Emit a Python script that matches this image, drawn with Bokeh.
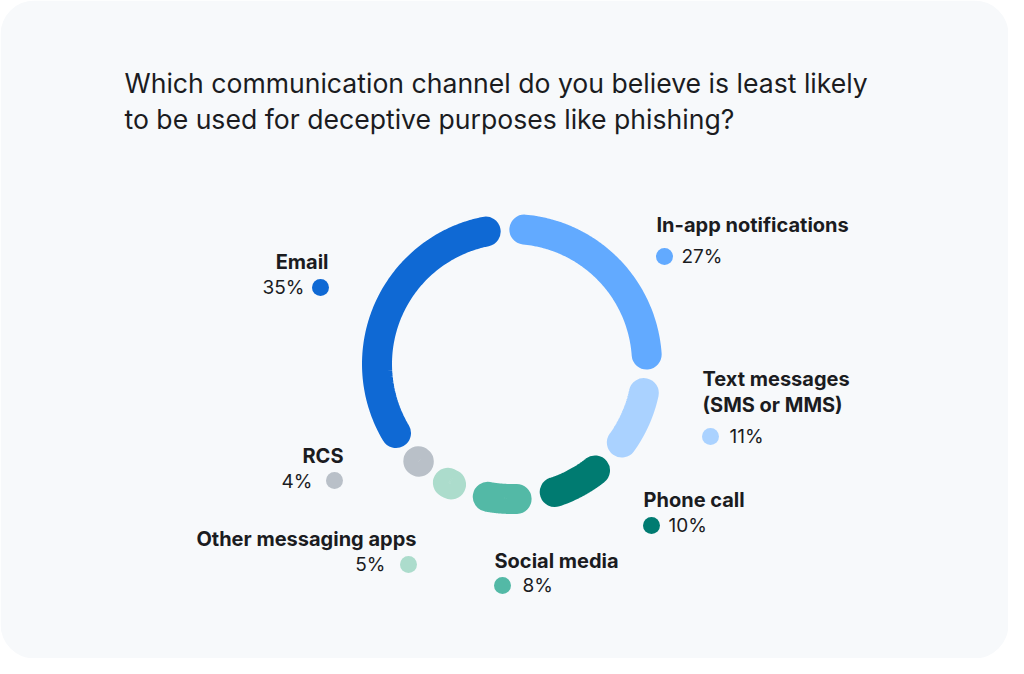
import numpy as np
from bokeh.plotting import figure
from bokeh.models import Range1d, BoxAnnotation, ColumnDataSource
from bokeh.core.properties import value
from bokeh.embed import file_html
from bokeh.resources import INLINE

# ---- data ----
channels = ["In-app notifications", "Text messages\n(SMS or MMS)", "Phone call",
            "Social media", "Other messaging apps", "RCS", "Email"]
shares = [27, 11, 10, 8, 5, 4, 35]
pct_labels = ["27%", "11%", "10%", "8%", "5%", "4%", "35%"]
colors = ["#62aaff", "#aad2ff", "#007b71", "#53b9a6", "#acdccc", "#b9c0c8", "#0f69d4"]
title_lines = ["Which communication channel do you believe is least likely",
               "to be used for deceptive purposes like phishing?"]

# ---- layout (reference pixel coordinates) ----
W, H = 1008, 658
FONT = "Inter"
INK = "#1b1c1f"
cx, cy, R = 511.5, 363.5, 135.0
start_deg = -3.0
gap_deg = 16.5

# label layout: (name_x, name_y, pct_x, pct_y, dot_x, dot_y, align)
label_pos = [
    (656, 224, 681, 256, 664, 256, "left"),
    (702, 378, 729, 436, 710, 436, "left"),
    (643, 499, 668, 525, 651, 525, "left"),
    (494, 560, 522, 585, 502, 585, "left"),
    (416, 538, 385, 564, 408, 564, "right"),
    (343, 455, 312, 481, 334, 480, "right"),
    (328, 261, 304, 287, 320, 287, "right"),
]

p = figure(width=W, height=H, x_range=Range1d(0, W), y_range=Range1d(H, 0),
           output_backend="svg", toolbar_location=None, min_border=0)
p.axis.visible = False
p.grid.visible = False
p.outline_line_color = None
p.background_fill_color = "white"
p.border_fill_color = "white"

card = BoxAnnotation(left=0, right=W, top=0, bottom=H,
                     fill_color="#f7f9fb", fill_alpha=1.0, line_color=None,
                     border_radius=34, level="underlay")
p.add_layout(card)

# ---- donut segments ----
total = float(sum(shares))
cum = np.concatenate([[0.0], np.cumsum(shares)]) / total * 360.0
xs, ys = [], []
for i in range(len(shares)):
    a0 = start_deg + cum[i] + gap_deg / 2
    a1 = start_deg + cum[i + 1] - gap_deg / 2
    if a1 - a0 < 0.3:
        mid = start_deg + (cum[i] + cum[i + 1]) / 2
        a0, a1 = mid - 0.15, mid + 0.15
    th = np.radians(np.linspace(a0, a1, 80))
    xs.append(list(cx + R * np.sin(th)))
    ys.append(list(cy - R * np.cos(th)))
p.multi_line(xs=xs, ys=ys, line_color=colors, line_width=30, line_cap="round")

# ---- labels ----
name_lines_x, name_lines_y, name_lines_t, name_lines_a = [], [], [], []
for i, name in enumerate(channels):
    nx, ny, _, _, _, _, al = label_pos[i]
    for j, ln in enumerate(name.split("\n")):
        name_lines_x.append(nx)
        name_lines_y.append(ny + j * 26)
        name_lines_t.append(ln)
        name_lines_a.append(al)
src_names = ColumnDataSource(dict(x=name_lines_x, y=name_lines_y, t=name_lines_t, a=name_lines_a))
p.text(x="x", y="y", text="t", text_align="a", source=src_names,
       text_font=value(FONT), text_font_style="bold", text_font_size="20px",
       text_baseline="middle", text_color=INK)

src_pct = ColumnDataSource(dict(x=[lp[2] for lp in label_pos], y=[lp[3] for lp in label_pos],
                                t=pct_labels, a=[lp[6] for lp in label_pos]))
p.text(x="x", y="y", text="t", text_align="a", source=src_pct,
       text_font=value(FONT), text_font_size="19px",
       text_baseline="middle", text_color=INK)

p.scatter(x=[lp[4] for lp in label_pos], y=[lp[5] for lp in label_pos],
          size=17, color=colors, line_color=None)

# ---- title ----
p.text(x=[124, 124], y=[82, 118], text=title_lines, text_font=value(FONT),
       text_font_size="26.6px", text_baseline="alphabetic", text_align="left",
       text_color=INK)

open("out.html", "w").write(file_html(p, INLINE))
